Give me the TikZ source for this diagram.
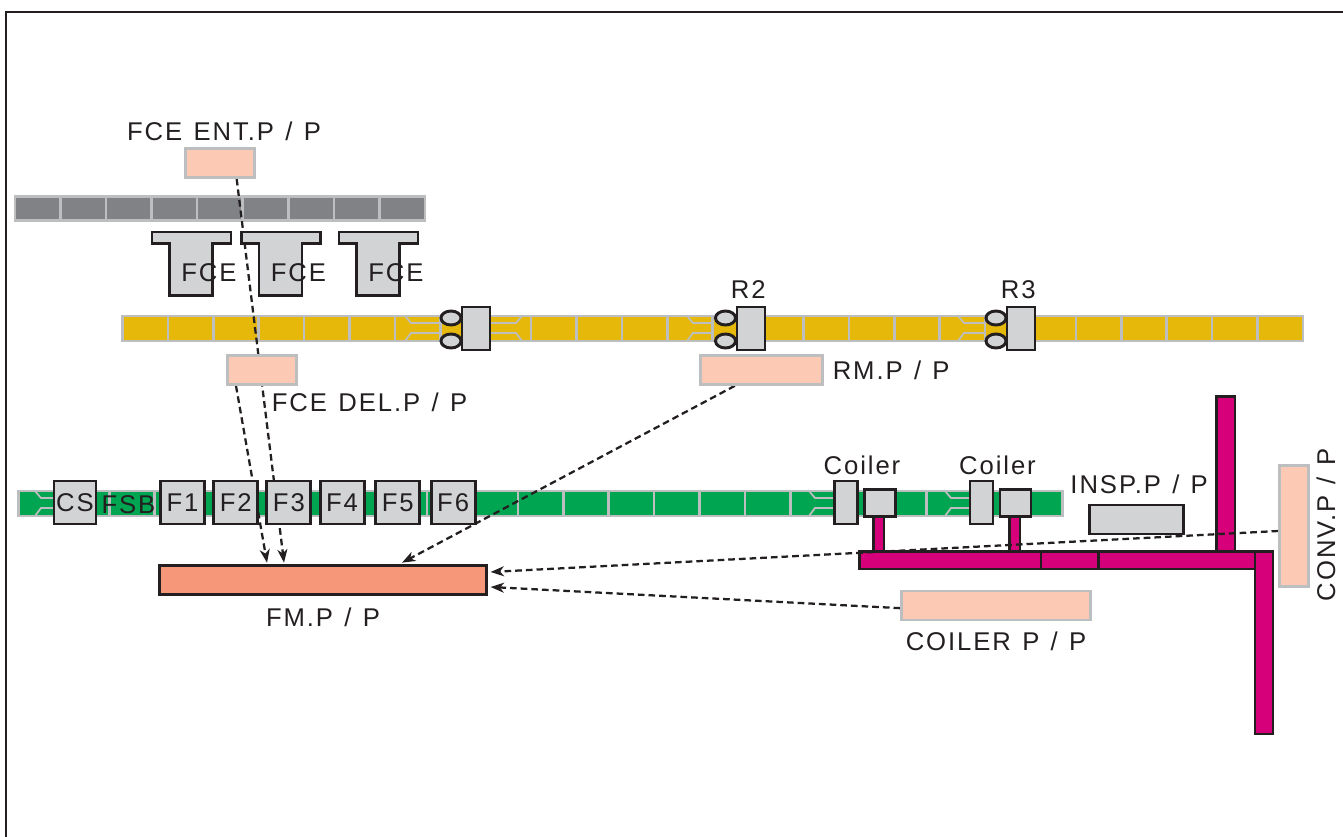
\documentclass[tikz,border=0pt]{standalone}
\usepackage{fontspec}
\setmainfont{Liberation Sans}[LetterSpace=7.5, WordSpace=1.25]
\usepackage{tikz}
\usetikzlibrary{shapes.geometric, arrows.meta, positioning, backgrounds}
\definecolor{inkline}{HTML}{231F20}
\definecolor{rimgray}{HTML}{BCBEC0}
\definecolor{furnacegray}{HTML}{808285}
\definecolor{machinegray}{HTML}{D1D3D4}
\definecolor{roughyellow}{HTML}{E6B80A}
\definecolor{finishgreen}{HTML}{00A551}
\definecolor{coilermagenta}{HTML}{D6007A}
\definecolor{panelpink}{HTML}{FCC9B4}
\definecolor{panelsalmon}{HTML}{F79779}
\begin{document}
\begin{tikzpicture}[x=0.75pt, y=-0.75pt, >={Stealth[length=10pt,width=7.5pt,inset=3pt]},
  every node/.style={text=inkline, inner sep=0pt, font=\fontsize{19.25}{22}\selectfont},
  size/.style 2 args={minimum width=#1*0.75pt, minimum height=#2*0.75pt},
  segment/.style={draw=rimgray, line width=1.9pt},
  forkline/.style={draw=rimgray, line width=1.3pt},
  machine/.style={rectangle, draw=inkline, fill=machinegray, line width=2.2pt},
  panel/.style={rectangle, draw=rimgray, fill=panelpink, line width=2pt},
  duct/.style={draw=inkline, fill=coilermagenta, line width=2.2pt},
  flow/.style={->, draw=inkline, line width=1.7pt, dash pattern=on 5pt off 3pt},
  tag/.style={rectangle}]
  \useasboundingbox (0,0) rectangle (1343,837);
  \draw[inkline, line width=1pt] (6,837) -- (6,12) -- (1343,12);

  \begin{scope}[on background layer]
    \foreach \i in {0,...,8}
      \draw[segment, fill=furnacegray] ({15+45.55*\i},196.5) rectangle ++(45.55,24);
    \foreach \i in {0,...,25}
      \draw[segment, fill=roughyellow] ({122.5+45.4*\i},316) rectangle ++(45.4,25);
    \foreach \i in {0,...,22}
      \draw[segment, fill=finishgreen] ({18.5+45.4*\i},491) rectangle ++(45.4,25);
    \foreach \s/\d/\o in {396/1/9, 532/-1/10, 668/1/19, 940/1/18}
      \draw[forkline] ({\s+\o*\d},316) -- ({\s+(\o+6)*\d},323) -- ({\s+45*\d},323)
        ({\s+\o*\d},341) -- ({\s+(\o+6)*\d},333) -- ({\s+45*\d},333);
    \foreach \s/\d/\o in {18/1/17, 790/1/19, 926/1/19}
      \draw[forkline] ({\s+\o*\d},491) -- ({\s+(\o+6)*\d},498) -- ({\s+45*\d},498)
        ({\s+\o*\d},516) -- ({\s+(\o+6)*\d},508) -- ({\s+45*\d},508);
    \draw[duct] (873.5,517) rectangle (884,552);
    \draw[duct] (1009.5,517) rectangle (1020,552);
    \draw[duct] (1216.5,396.5) rectangle (1235,552);
    \draw[duct] (859.5,551.5) rectangle (1255,569);
    \draw[duct] (1255,551.5) rectangle (1273,734);
    \draw[inkline, line width=2pt] (1041,551.5) -- (1041,569) (1098.5,551.5) -- (1098.5,569);
  \end{scope}

  \node[panel, size={69}{29}] (entpp) at (220,163) {};
  \node[tag, above=4.5pt of entpp, xshift=3pt] (entlabel) {FCE ENT.P / P};
  \node[panel, size={69}{29}] (delpp) at (262,370) {};
  \node[tag] (dellabel) at (369.5,402) {FCE DEL.P / P};
  \node[panel, size={122}{29}] (rmpp) at (761.5,370) {};
  \node[tag, right=6.5pt of rmpp] (rmlabel) {RM.P / P};
  \node[panel, size={189}{29}] (coilerpp) at (996,605.5) {};
  \node[tag, below=8pt of coilerpp] (coilerlabel) {COILER P / P};
  \node[panel, size={29}{121}] (convpp) at (1294,526) {};
  \node[tag, rotate=90] (convlabel) at (1326,525) {CONV.P / P};
  \node[rectangle, draw=inkline, fill=panelsalmon, line width=2.2pt, size={327}{29}] (fmpp) at (323,580) {};
  \node[tag, below=9pt of fmpp] (fmlabel) {FM.P / P};

  \foreach \fx/\fname in {152/fcea, 241.5/fceb, 339/fcec}
    \draw[inkline, fill=machinegray, line width=2.2pt] (\fx,232) -- ++(79,0) -- ++(0,11.5) -- ++(-18.5,0)
      -- ++(0,52) -- ++(-43,0) -- ++(0,-52) -- ++(-17.5,0) -- cycle
      node[tag] (\fname) at ({\fx+57},273) {FCE};

  \foreach \rx/\rname in {451/rolla, 725.5/rollb, 996/rollc} {
    \node[ellipse, draw=inkline, fill=machinegray, line width=2.2pt, size={20}{14}] (\rname up) at (\rx,318) {};
    \node[ellipse, draw=inkline, fill=machinegray, line width=2.2pt, size={20}{14}] (\rname down) at (\rx,341) {};
  }
  \node[machine, size={28}{43}] (stand1) at (476,328.5) {};
  \node[machine, size={28}{43}] (stand2) at (751,328.5) {};
  \node[machine, size={28}{43}] (stand3) at (1021,328.5) {};
  \node[tag, above=5pt of stand2, xshift=-2pt] (r2label) {R2};
  \node[tag, above=5pt of stand3, xshift=-2pt] (r3label) {R3};

  \node[machine, size={42}{43}] (cs) at (75,502.5) {CS};
  \node[tag] (fsb) at (128.5,505) {FSB};
  \node[machine, size={44}{43}] (f1) at (182.5,502.5) {F1};
  \node[machine, size={44}{43}, right=4.7pt of f1] (f2) {F2};
  \node[machine, size={44}{43}, right=4.7pt of f2] (f3) {F3};
  \node[machine, size={44}{43}, right=4.7pt of f3] (f4) {F4};
  \node[machine, size={44}{43}, right=6.6pt of f4] (f5) {F5};
  \node[machine, size={44}{43}, right=6.3pt of f5] (f6) {F6};

  \node[machine, size={23}{43}] (mandrel1) at (846,502.5) {};
  \node[machine, size={31}{27}] (reel1) at (880,503) {};
  \node[machine, size={23}{43}] (mandrel2) at (981.5,502.5) {};
  \node[machine, size={31}{27}] (reel2) at (1015.5,503) {};
  \node[tag, above=3.5pt of mandrel1, xshift=12pt] (coiler1) {Coiler};
  \node[tag, above=3.5pt of mandrel2, xshift=12pt] (coiler2) {Coiler};
  \node[machine, size={94}{29}] (insp) at (1136.5,519.5) {};
  \node[tag, above=7pt of insp, xshift=2pt] (insplabel) {INSP.P / P};

  \begin{scope}[on background layer]
    \draw[flow] ([xshift=12.5pt]entpp.south) -- ([xshift=94.5pt,yshift=1pt]fmpp.north west);
    \draw[flow] ([xshift=-19.5pt]delpp.south) -- ([xshift=81.75pt,yshift=1pt]fmpp.north west);
    \draw[flow] ([xshift=-20pt]rmpp.south) -- ([xshift=183pt,yshift=1pt]fmpp.north west);
    \draw[flow] ([yshift=-3.75pt]convpp.west) -- ([xshift=2pt,yshift=6pt]fmpp.east);
    \draw[flow] ([yshift=-2pt]coilerpp.west) -- ([xshift=2pt,yshift=-5.25pt]fmpp.east);
  \end{scope}
\end{tikzpicture}
\end{document}
